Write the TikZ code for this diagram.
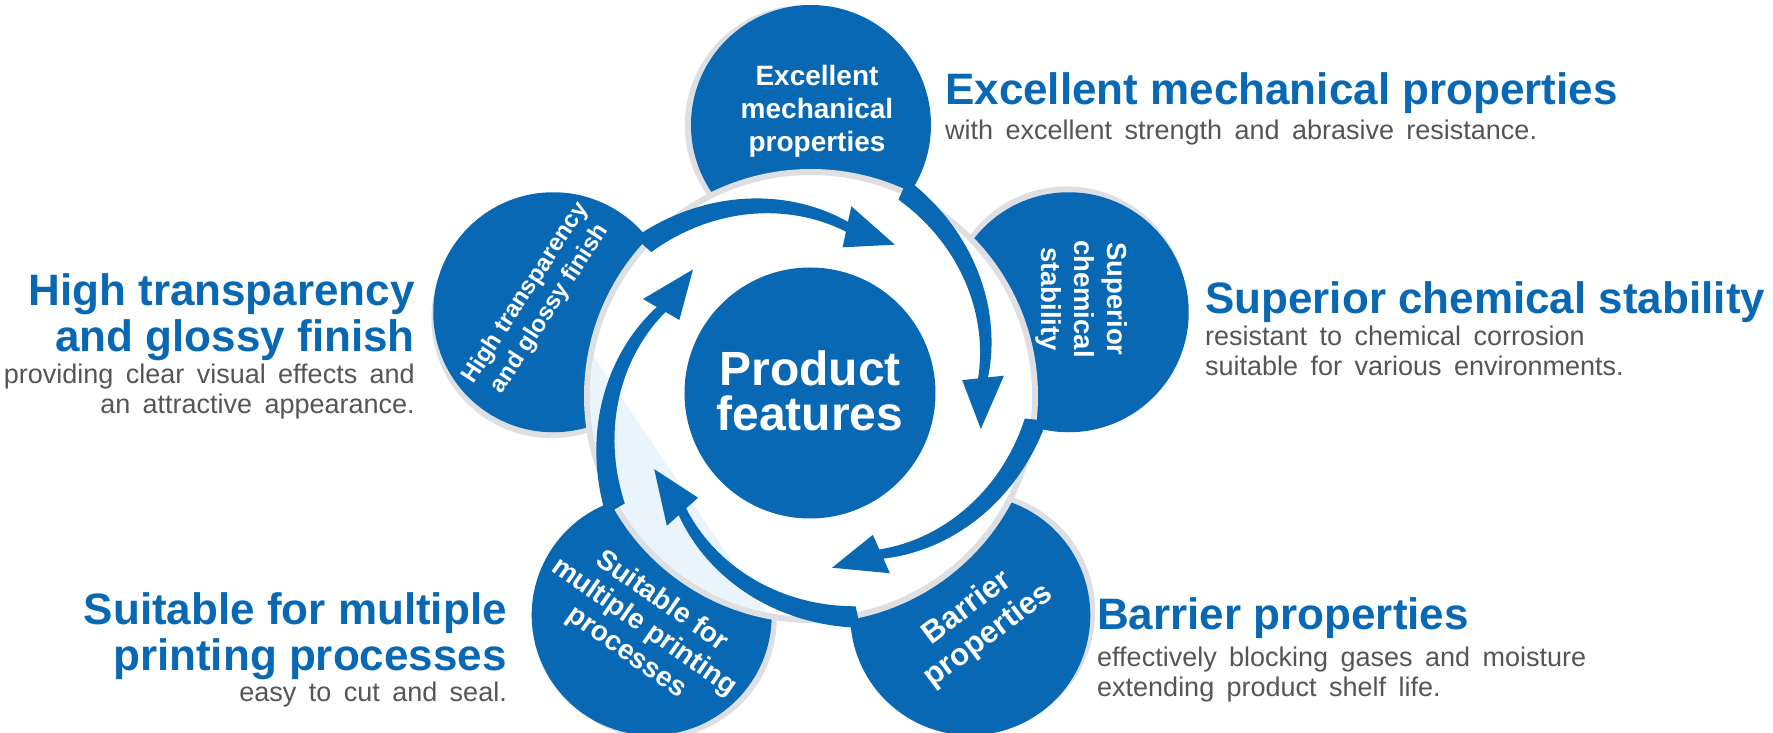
\documentclass[tikz,border=0pt]{standalone}
\usepackage{fontspec}
\setmainfont{Liberation Sans}
\definecolor{brandblue}{RGB}{9,104,180}
\definecolor{rimgray}{RGB}{222,223,226}
\definecolor{txtgray}{RGB}{85,85,85}
\definecolor{glossblue}{RGB}{233,244,252}
\newcommand\widesp{\spaceskip=0.46em plus 0.05em\relax}
% spiral arrow: #1 = angle of the bubble it leaves
\newcommand\featarrow[1]{%
  \pgfmathsetmacro\sparA{#1-24}%
  \pgfmathsetmacro\sparB{#1-84}%
  \pgfmathsetmacro\sparC{#1-101}%
  \fill[brandblue]
    plot[domain=0:1,samples=40,variable=\t] ({\sparA+(\sparB-\sparA)*\t}:{237-59*\t})
    -- (\sparB:194) -- (\sparC:173) -- (\sparB:152)
    -- plot[domain=1:0,samples=40,variable=\t] ({\sparA+(\sparB-\sparA)*\t}:{215-47*\t})
    -- cycle;
}
\begin{document}
\begin{tikzpicture}[x=1pt,y=1pt,
  headfont/.style={font=\fontsize{44}{46}\selectfont\bfseries, text=brandblue, inner sep=0pt},
  subfont/.style={font=\fontsize{27}{30}\selectfont, execute at begin node=\widesp, text=txtgray, inner sep=0pt},
  bubble/.style={circle, fill=brandblue, minimum size=240pt, inner sep=0pt},
  bubbleshade/.style={circle, fill=rimgray, minimum size=240pt, inner sep=0pt},
  bubbletext/.style={text=white, align=center, inner sep=0pt},
]
\useasboundingbox (-811,-337) rectangle (962,396);

% shadows of the bubbles
\node[bubbleshade] (s1) at (91.3:271) {};
\node[bubbleshade] (s2) at (19.3:271) {};
\node[bubbleshade] (s3) at (-52.7:271) {};
\node[bubbleshade] (s4) at (-124.7:271) {};
\node[bubbleshade] (s5) at (163.3:271) {};
% bubbles
\node[bubble] (b1) at (90:271) {};
\node[bubble] (b2) at (18:271) {};
\node[bubble] (b3) at (-54:271) {};
\node[bubble] (b4) at (-126:271) {};
\node[bubble] (b5) at (162:271) {};

% white disk with grey rim
\node[circle, fill=white, draw=rimgray, line width=6pt, minimum size=448pt, inner sep=0pt] (disk) at (0,0) {};
% glossy light segment
\begin{scope}
  \clip (0,0) circle (221);
  \fill[glossblue, rotate=214] (158,-300) rectangle (400,300);
\end{scope}

% cycle arrows
\featarrow{90}
\featarrow{18}
\featarrow{-54}
\featarrow{-126}
\featarrow{162}

% centre
\node[bubble, minimum size=251pt] (core) at (-1,3) {};
\node[font=\fontsize{48}{45}\selectfont\bfseries, text=white, align=center, inner sep=0pt] (coretext) at (-1,5) {Product\\features};

% bubble texts
\node[bubbletext, font=\fontsize{28}{33}\selectfont\bfseries] (t1) at (6,285) {Excellent\\mechanical\\properties};
\node[bubbletext, font=\fontsize{27.5}{33}\selectfont\bfseries, rotate=-90] (t2) at (271,97) {Superior\\chemical\\stability};
\node[bubbletext, font=\fontsize{31}{35}\selectfont\bfseries, rotate=37] (t3) at (167,-226) {Barrier\\properties};
\node[bubbletext, font=\fontsize{28}{31}\selectfont\bfseries, rotate=-35] (t4) at (-167,-231) {Suitable for\\multiple printing\\processes};
\node[bubbletext, font=\fontsize{24}{29}\selectfont\bfseries, rotate=57] (t5) at (-273,95) {High transparency\\and glossy finish};

% side texts
\node[headfont, anchor=north west] (h1) at (134,324) {Excellent mechanical properties};
\node[subfont, anchor=north west] (d1) at (134,276) {with excellent strength and abrasive resistance.};
\node[headfont, anchor=north west] (h2) at (394,115) {Superior chemical stability};
\node[subfont, anchor=north west, align=left] (d2) at (394,70) {resistant to chemical corrosion\\suitable for various environments.};
\node[headfont, anchor=north west] (h3) at (286,-201) {Barrier properties};
\node[subfont, anchor=north west, align=left] (d3) at (286,-251) {effectively blocking gases and moisture\\extending product shelf life.};
\node[headfont, anchor=north east, align=right] (h4) at (-304,-196) {Suitable for multiple\\printing processes};
\node[subfont, anchor=north east] (d4) at (-304,-286) {easy to cut and seal.};
\node[headfont, anchor=north east, align=right] (h5) at (-396,123) {High transparency\\and glossy finish};
\node[subfont, anchor=north east, align=right] (d5) at (-396,32) {providing clear visual effects and\\an attractive appearance.};
\end{tikzpicture}
\end{document}
